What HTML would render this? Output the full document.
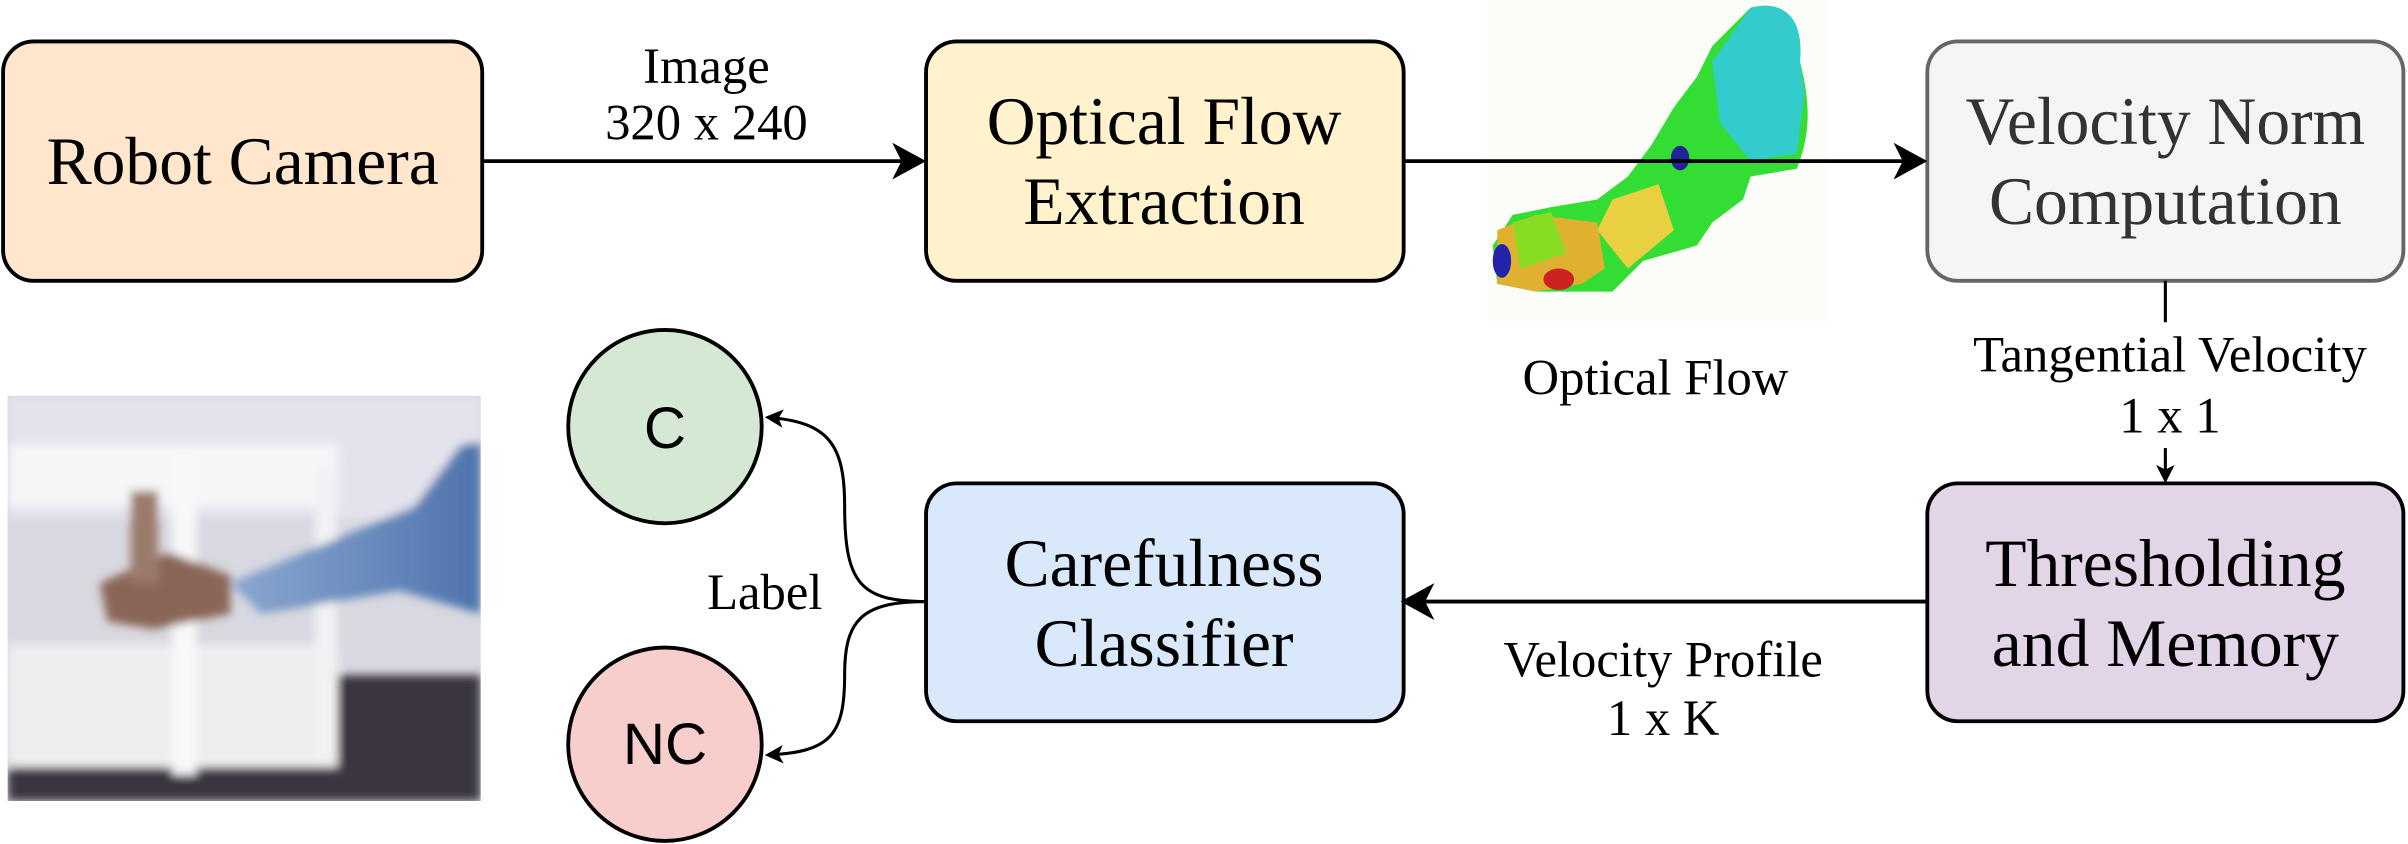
<!DOCTYPE html>
<html><head><style>html,body{margin:0;padding:0;background:#fff;}svg{display:block}</style></head>
<body>
<svg width="2408" height="844" viewBox="0 0 1568 550" preserveAspectRatio="none" xmlns="http://www.w3.org/2000/svg" style="font-family:'Liberation Serif',serif">
<defs>
<marker id="a" markerWidth="12" markerHeight="12" refX="10" refY="6" orient="auto" markerUnits="userSpaceOnUse"><path d="M0,0 L12,6 L0,12 L3,6 Z" fill="#000"/></marker>
<marker id="b" markerWidth="24" markerHeight="24" refX="20" refY="12" orient="auto" markerUnits="userSpaceOnUse"><path d="M0,0 L22,12 L0,24 L6,12 Z" fill="#000"/></marker>
<linearGradient id="arm" x1="0" y1="0" x2="1" y2="0"><stop offset="0" stop-color="#8aa7d0"/><stop offset="1" stop-color="#4e74ad"/></linearGradient>
<filter id="bl"><feGaussianBlur stdDeviation="3"/></filter>
</defs>
<g>
<rect x="968" y="0" width="222" height="210" fill="#fcfdf8"/>
<path d="M1140,5 C1160,0 1175,10 1172,40 C1180,70 1178,90 1170,110 L1140,115 L1135,130 L1115,145 L1105,160 L1070,170 L1050,190 L1000,190 L975,185 L972,160 L985,140 L1010,135 L1040,130 L1060,115 L1075,95 L1090,70 L1105,50 L1115,30 Z" fill="#33dd33"/>
<path d="M1140,5 C1160,0 1175,10 1172,40 L1175,60 L1170,100 L1140,105 L1120,80 L1115,40 Z" fill="#33cccc"/>
<path d="M1050,130 L1080,120 L1090,150 L1060,175 L1040,150 Z" fill="#e8d040"/>
<path d="M975,150 L1000,140 L1040,145 L1045,175 L1030,185 L1000,190 L975,185 Z" fill="#e0b030"/>
<path d="M985,145 L1010,138 L1020,165 L990,175 Z" fill="#88dd22"/>
<ellipse cx="1015" cy="182" rx="10" ry="7" fill="#cc2222"/>
<ellipse cx="978" cy="170" rx="6" ry="11" fill="#2222aa"/>
<ellipse cx="1094" cy="103" rx="6" ry="8" fill="#222299"/>
</g>
<svg x="5" y="258" width="308" height="264" viewBox="5 258 308 264">
<rect x="0" y="250" width="330" height="280" fill="#d8d8e0"/>
<g filter="url(#bl)">
<rect x="5" y="258" width="308" height="80" fill="#e4e2ec"/>
<rect x="5" y="440" width="308" height="82" fill="#3a3640"/>
<rect x="5" y="290" width="215" height="40" fill="#f6f6f8"/>
<rect x="5" y="420" width="215" height="80" fill="#eeeef0"/>
<rect x="112" y="295" width="16" height="210" fill="#f8f8fa"/>
<rect x="205" y="305" width="14" height="190" fill="#f2f2f4"/>
<path d="M150,380 L270,330 L300,290 L313,288 L313,400 L260,385 L170,400 Z" fill="url(#arm)"/>
<path d="M65,380 L110,360 L150,375 L150,400 L100,410 L70,405 Z" fill="#8a6656"/>
<rect x="85" y="320" width="18" height="60" fill="#9b7a6a"/>
</g>
</svg>
<rect x="2" y="27" width="312" height="156" rx="20" fill="#ffe6cc" stroke="#000" stroke-width="2.5"/>
<rect x="603" y="27" width="311" height="156" rx="20" fill="#fff2cc" stroke="#000" stroke-width="2.5"/>
<rect x="1255" y="27" width="310" height="156" rx="20" fill="#f5f5f5" stroke="#666" stroke-width="2.5"/>
<rect x="1255" y="315" width="310" height="155" rx="20" fill="#e1d5e7" stroke="#000" stroke-width="2.5"/>
<rect x="603" y="315" width="311" height="155" rx="20" fill="#dae8fc" stroke="#000" stroke-width="2.5"/>
<ellipse cx="433" cy="278" rx="63" ry="63" fill="#d5e8d4" stroke="#000" stroke-width="2.5"/>
<ellipse cx="433" cy="485" rx="63" ry="63" fill="#f8cecc" stroke="#000" stroke-width="2.5"/>
<line x1="314" y1="105" x2="601" y2="105" stroke="#000" stroke-width="2.5" marker-end="url(#b)"/>
<line x1="914" y1="105" x2="1253" y2="105" stroke="#000" stroke-width="2.5" marker-end="url(#b)"/>
<line x1="918" y1="392" x2="1255" y2="392" stroke="#000" stroke-width="2.5"/>
<path d="M930,392 L936,392" stroke="#000" marker-end="url(#b)" transform="rotate(180 925 392)"/>
<line x1="1410" y1="183" x2="1410" y2="210" stroke="#000" stroke-width="2"/>
<line x1="1410" y1="292" x2="1410" y2="313" stroke="#000" stroke-width="2" marker-end="url(#a)"/>
<path d="M603,392 C560,392 550,380 550,330 C550,290 540,275 500,272" fill="none" stroke="#000" stroke-width="2" marker-end="url(#a)"/>
<path d="M603,392 C560,392 550,405 550,440 C550,480 540,490 500,492" fill="none" stroke="#000" stroke-width="2" marker-end="url(#a)"/>
<g font-size="44" text-anchor="middle" fill="#000">
<text x="158" y="120">Robot Camera</text>
<text x="758" y="94">Optical Flow</text>
<text x="758" y="146">Extraction</text>
<text x="1410" y="94" fill="#333">Velocity Norm</text>
<text x="1410" y="146" fill="#333">Computation</text>
<text x="1410" y="382">Thresholding</text>
<text x="1410" y="434">and Memory</text>
<text x="758" y="382">Carefulness</text>
<text x="758" y="434">Classifier</text>
<text x="433" y="292" font-size="38" style="font-family:'Liberation Sans',sans-serif">C</text>
<text x="433" y="498" font-size="38" style="font-family:'Liberation Sans',sans-serif">NC</text>
</g>
<g font-size="33" text-anchor="middle" fill="#000">
<text x="460" y="54">Image</text>
<text x="460" y="91">320 x 240</text>
<text x="1078" y="257">Optical Flow</text>
<text x="1413" y="242">Tangential Velocity</text>
<text x="1413" y="282">1 x 1</text>
<text x="498" y="397">Label</text>
<text x="1083" y="441">Velocity Profile</text>
<text x="1083" y="479">1 x K</text>
</g>
</svg>
</body></html>
